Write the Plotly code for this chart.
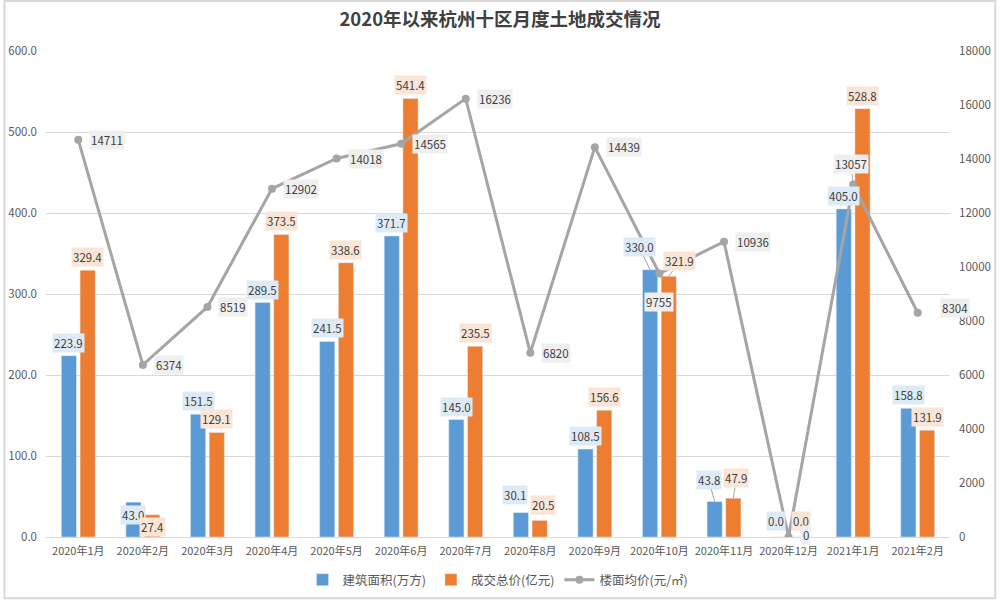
import plotly.graph_objects as go

months = ["2020年1月", "2020年2月", "2020年3月", "2020年4月", "2020年5月", "2020年6月", "2020年7月",
          "2020年8月", "2020年9月", "2020年10月", "2020年11月", "2020年12月", "2021年1月", "2021年2月"]
area = [223.9, 43.0, 151.5, 289.5, 241.5, 371.7, 145.0, 30.1, 108.5, 330.0, 43.8, 0.0, 405.0, 158.8]
total = [329.4, 27.4, 129.1, 373.5, 338.6, 541.4, 235.5, 20.5, 156.6, 321.9, 47.9, 0.0, 528.8, 131.9]
price = [14711, 6374, 8519, 12902, 14018, 14565, 16236, 6820, 14439, 9755, 10936, 0, 13057, 8304]

name_area = "建筑面积(万方)"
name_total = "成交总价(亿元)"
name_price = "楼面均价(元/㎡)"

BLUE = "#5B9BD5"
ORANGE = "#ED7D31"
GRAY = "#A5A5A5"
TXT = "#404040"
FONT = "Noto Sans CJK SC"
BARGAP = 0.42
BARGROUPGAP = 0.19

# label placement tweaks (pixels): index -> (dx, dy_up, leader)
area_lbl = {1: (0, -13, False), 7: (-6, 18, False), 9: (-11, 23, True), 10: (-6, 22, True),
            11: (-3, 16, False)}
total_lbl = {1: (0, -12, False), 7: (3, 15, False), 9: (11, 15, True), 10: (3, 20, True),
             11: (3, 16, False)}
price_lbl = {9: (0, -28, False, "center"), 11: (12, 2, False, "left"),
             12: (-2, 20, True, "center"), 13: (22, 5, False, "left")}

fig = go.Figure()
fig.add_trace(go.Bar(x=months, y=area, name=name_area, marker_color=BLUE, yaxis="y"))
fig.add_trace(go.Bar(x=months, y=total, name=name_total, marker_color=ORANGE, yaxis="y"))
fig.add_trace(go.Scatter(x=months, y=price, name=name_price, mode="lines+markers", yaxis="y2",
                         line=dict(color=GRAY, width=3), marker=dict(color=GRAY, size=8)))

off = (1 - BARGAP) / 4
ann = []
LFONT = dict(family=FONT, size=11.5, color=TXT)

def bar_labels(vals, sign, table, bg):
    for i, v in enumerate(vals):
        dx, dy, leader = table.get(i, (0, 13, False))
        base = dict(x=i + sign * off, y=v, xref="x", yref="y", text=f"{v:.1f}",
                    font=LFONT, bgcolor=bg, borderpad=1,
                    xanchor="center", yanchor="middle")
        if leader:
            base.update(showarrow=True, ax=dx, ay=-dy, arrowhead=0, arrowwidth=1,
                        arrowcolor="#A6A6A6", standoff=0)
        else:
            base.update(showarrow=False, xshift=dx, yshift=dy)
        ann.append(base)

bar_labels(area, -1, area_lbl, "#DEEBF7")
bar_labels(total, 1, total_lbl, "#FBE5D6")

for i, v in enumerate(price):
    dx, dy, leader, anchor = price_lbl.get(i, (11, 0, False, "left"))
    base = dict(x=i, y=v, xref="x", yref="y2", text=f"{v}",
                font=LFONT, bgcolor="#EFEFEF", borderpad=1,
                xanchor=anchor, yanchor="middle")
    if leader:
        base.update(showarrow=True, ax=dx, ay=-dy, arrowhead=0, arrowwidth=1,
                    arrowcolor="#A6A6A6", standoff=0, xanchor="center")
    else:
        base.update(showarrow=False, xshift=dx, yshift=dy)
    ann.append(base)

fig.update_layout(
    width=1000, height=600,
    paper_bgcolor="white", plot_bgcolor="white",
    margin=dict(l=46, r=50, t=51, b=63, autoexpand=False),
    barmode="group", bargap=BARGAP, bargroupgap=BARGROUPGAP,
    font=dict(family=FONT, size=12, color="#595959"),
    title=dict(text="<b>2020年以来杭州十区月度土地成交情况</b>", x=0.5, xanchor="center",
               y=1 - 20 / 600, yanchor="middle", yref="container",
               font=dict(family=FONT, size=18.5, color=TXT)),
    xaxis=dict(type="category", range=[-0.5, len(months) - 0.5], showline=True,
               linecolor="#D9D9D9", linewidth=1, tickangle=0,
               ticks="", ticklabelstandoff=4, tickfont=dict(size=11, color="#595959"),
               automargin=False),
    yaxis=dict(range=[0, 600], dtick=100, tickformat=".1f", showgrid=True, gridcolor="#D9D9D9",
               zeroline=False, ticks="", ticklabelstandoff=8,
               tickfont=dict(size=11.5, color="#595959"), automargin=False),
    yaxis2=dict(range=[0, 18000], dtick=2000, tickformat="d", overlaying="y", side="right",
                showgrid=False, zeroline=False, ticks="", ticklabelstandoff=8,
                tickfont=dict(size=11.5, color="#595959"), automargin=False),
    legend=dict(orientation="h", x=0.5, xanchor="center", y=(600 - 580) / 600, yanchor="middle",
                yref="container", font=dict(size=12.5, color="#595959"), traceorder="normal"),
    annotations=ann,
    shapes=[dict(type="rect", xref="paper", yref="paper", x0=-0.046, x1=1.05, y0=-0.126, y1=1.103,
                 line=dict(color="#D9D9D9", width=2))],
)

fig.write_html("out.html", post_script="document.body.style.margin='0';",
               config={"displayModeBar": False})
